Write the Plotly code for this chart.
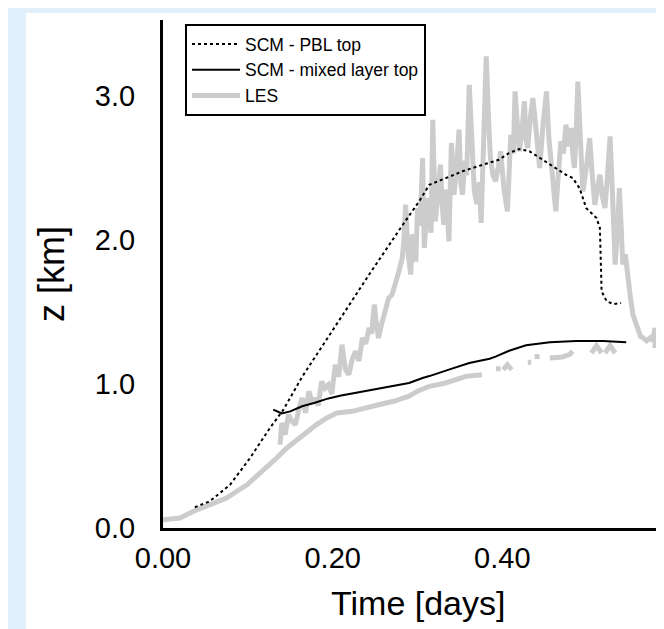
import plotly.graph_objects as go

# ---------------- data ----------------
# LES - upper (noisy) branch
les_top_t = [0.138, 0.140, 0.144, 0.148, 0.152, 0.156, 0.160, 0.164, 0.168, 0.172, 0.176, 0.179,
             0.183, 0.187, 0.191, 0.195, 0.199, 0.203, 0.207, 0.211, 0.215, 0.219, 0.223, 0.227,
             0.231, 0.235, 0.239, 0.243, 0.246, 0.249, 0.252, 0.254, 0.257, 0.260, 0.263, 0.266,
             0.270, 0.274, 0.278, 0.282, 0.284, 0.286, 0.289, 0.292, 0.294, 0.296, 0.298, 0.300,
             0.303, 0.306, 0.308, 0.311, 0.313, 0.316, 0.318, 0.321, 0.324, 0.327, 0.329, 0.331,
             0.334, 0.337, 0.340, 0.343, 0.346, 0.349, 0.351, 0.353, 0.356, 0.358, 0.361, 0.364,
             0.367, 0.370, 0.373, 0.375, 0.378, 0.381, 0.384, 0.386, 0.389, 0.392, 0.395, 0.398,
             0.402, 0.406, 0.410, 0.413, 0.415, 0.418, 0.420, 0.423, 0.426, 0.428, 0.430, 0.433,
             0.436, 0.440, 0.444, 0.448, 0.452, 0.455, 0.458, 0.461, 0.463, 0.466, 0.469, 0.472,
             0.475, 0.478, 0.481, 0.483, 0.485, 0.487, 0.489, 0.492, 0.495, 0.499, 0.503, 0.506,
             0.509, 0.512, 0.515, 0.518, 0.521, 0.524, 0.527, 0.530, 0.533, 0.536, 0.538, 0.540,
             0.542, 0.545, 0.548, 0.551, 0.554, 0.557, 0.560, 0.563, 0.566, 0.570, 0.574, 0.577,
             0.580, 0.580]
les_top_z = [0.579, 0.729, 0.648, 0.787, 0.741, 0.718, 0.820, 0.903, 0.800, 0.949, 0.870, 0.903,
             0.850, 1.019, 0.972, 0.995, 0.930, 1.134, 1.050, 1.273, 1.100, 1.065, 1.170, 1.227,
             1.160, 1.319, 1.280, 1.389, 1.350, 1.551, 1.400, 1.319, 1.400, 1.458, 1.520, 1.597,
             1.620, 1.690, 1.780, 1.875, 2.000, 2.245, 1.900, 1.760, 2.037, 2.014, 1.850, 2.222,
             2.100, 2.569, 1.944, 2.200, 2.292, 2.050, 2.835, 2.130, 2.300, 2.523, 2.250, 2.106,
             2.350, 1.990, 2.674, 2.315, 2.500, 2.766, 2.400, 2.315, 2.550, 2.450, 3.078, 2.600,
             2.338, 2.250, 2.400, 2.118, 2.600, 3.275, 2.800, 2.569, 2.450, 2.407, 2.500, 2.616,
             2.350, 2.199, 2.731, 2.600, 3.032, 2.800, 2.616, 2.750, 2.963, 2.700, 2.639, 2.850,
             2.986, 2.750, 2.500, 2.800, 3.032, 2.700, 2.523, 2.350, 2.199, 2.450, 2.685, 2.600,
             2.801, 2.650, 2.778, 2.600, 2.500, 2.750, 3.100, 2.700, 2.338, 2.500, 2.708, 2.450,
             2.245, 2.350, 2.453, 2.300, 2.222, 2.450, 2.720, 2.300, 1.829, 2.100, 2.360, 2.100,
             1.830, 1.900, 1.713, 1.600, 1.480, 1.420, 1.366, 1.330, 1.320, 1.300, 1.320, 1.300,
             1.389, 1.250]

# LES - lower branch (gaps where data are missing)
les_low_t = [0.000, 0.016, 0.020, 0.036, 0.051, 0.063, 0.075, 0.087, 0.099, 0.110, 0.122, 0.134,
             0.146, 0.158, 0.170, 0.181, 0.193, 0.205, 0.223, 0.235, 0.254, 0.272, 0.290, 0.300,
             0.314, 0.333, 0.345, 0.357, 0.376, None,
             0.3925, 0.398, None, 0.401, 0.406, 0.411, None, 0.430, 0.434, None, 0.438, 0.444, None,
             0.456, 0.471, 0.479, 0.483, None, 0.505, 0.511, 0.517, None, 0.521, 0.527, 0.533]
les_low_z = [0.058, 0.069, 0.069, 0.116, 0.150, 0.174, 0.208, 0.255, 0.300, 0.359, 0.417, 0.486,
             0.556, 0.613, 0.671, 0.718, 0.764, 0.799, 0.810, 0.830, 0.856, 0.880, 0.915, 0.950,
             0.984, 1.007, 1.030, 1.053, 1.065, None,
             1.106, 1.106, None, 1.099, 1.134, 1.099, None, 1.150, 1.150, None, 1.190, 1.190, None,
             1.180, 1.188, 1.204, 1.227, None, 1.215, 1.266, 1.215, None, 1.215, 1.266, 1.215]

# SCM - PBL top
pbl_t = [0.0375, 0.055, 0.079, 0.1026, 0.126, 0.142, 0.164, 0.203, 0.243, 0.282, 0.302, 0.314,
         0.329, 0.353, 0.377, 0.396, 0.408, 0.420, 0.432, 0.448, 0.4635, 0.475, 0.483, 0.491,
         0.499, 0.511, 0.515, 0.516, 0.517, 0.523, 0.531, 0.540]
pbl_z = [0.144, 0.185, 0.300, 0.486, 0.694, 0.822, 1.050, 1.400, 1.760, 2.100, 2.269, 2.384,
         2.419, 2.477, 2.523, 2.557, 2.604, 2.632, 2.616, 2.557, 2.500, 2.453, 2.430, 2.360,
         2.220, 2.153, 2.083, 1.875, 1.644, 1.574, 1.555, 1.5625]

# SCM - mixed layer top
ml_t = [0.130, 0.134, 0.140, 0.150, 0.164, 0.178, 0.195, 0.210, 0.227, 0.258, 0.290, 0.306,
        0.314, 0.337, 0.361, 0.385, 0.392, 0.408, 0.428, 0.456, 0.487, 0.519, 0.546]
ml_z = [0.822, 0.810, 0.795, 0.810, 0.845, 0.868, 0.900, 0.920, 0.9375, 0.972, 1.007, 1.042,
        1.055, 1.100, 1.146, 1.175, 1.190, 1.231, 1.269, 1.290, 1.299, 1.299, 1.290]

x_ticks = [0.0, 0.2, 0.4]
x_tick_text = ["0.00", "0.20", "0.40"]
y_ticks = [0.0, 1.0, 2.0, 3.0]
y_tick_text = ["0.0", "1.0", "2.0", "3.0"]

# ---------------- figure ----------------
W, H = 664, 629
ML, MR, MT, MB = 155, 0, 12, 109
FONT = "Liberation Sans, Arial, Helvetica, sans-serif"
LES_COLOR = "#cccccc"

fig = go.Figure()
# LES drawn first (underneath the SCM curves)
fig.add_trace(go.Scatter(x=les_top_t, y=les_top_z, mode="lines", name="LES", legendrank=3,
                         line=dict(color=LES_COLOR, width=5)))
fig.add_trace(go.Scatter(x=les_low_t, y=les_low_z, mode="lines", name="LES", showlegend=False,
                         connectgaps=False, line=dict(color=LES_COLOR, width=5)))
fig.add_trace(go.Scatter(x=pbl_t, y=pbl_z, mode="lines", name="SCM - PBL top", legendrank=1,
                         line=dict(color="black", width=2, dash="dot")))
fig.add_trace(go.Scatter(x=ml_t, y=ml_z, mode="lines", name="SCM - mixed layer top",
                         legendrank=2, line=dict(color="black", width=2)))

pw = W - ML - MR
ph = H - MT - MB
# white page area (light-blue frame on left and top)
fig.add_shape(type="rect", xref="paper", yref="paper", layer="below",
              x0=(18 - ML) / pw, x1=1.05, y0=-(MB + 10) / ph, y1=1 + (MT - 5) / ph,
              fillcolor="white", line=dict(width=0))

# x-axis title placed just under the tick labels
fig.add_annotation(text="Time [days]", xref="paper", yref="paper",
                   x=0.5, y=-(595 - (H - MB)) / ph, xanchor="center", yanchor="middle",
                   showarrow=False, font=dict(size=34, family=FONT, color="black"))

fig.update_layout(
    width=W, height=H,
    margin=dict(l=ML, r=MR, t=MT, b=MB, pad=0),
    paper_bgcolor="#e1f0fa", plot_bgcolor="white",
    font=dict(family=FONT, color="black"),
    legend=dict(x=(177 - ML) / pw, y=1 - (16 - MT) / ph, xanchor="left", yanchor="top",
                bgcolor="white", bordercolor="black", borderwidth=2, itemwidth=48,
                font=dict(size=17.5, family=FONT, color="black")),
    xaxis=dict(range=[0, 0.6], tickvals=x_ticks, ticktext=x_tick_text, showgrid=False,
               zeroline=False, showline=True, linecolor="black", linewidth=3, ticks="",
               tickfont=dict(size=29), ticklabelstandoff=2),
    yaxis=dict(range=[0, (H - MB - MT) / 144.0], tickvals=y_ticks, ticktext=y_tick_text,
               showgrid=False, zeroline=False, showline=True, linecolor="black", linewidth=3,
               ticks="", tickfont=dict(size=29), ticklabelstandoff=19,
               title=dict(text="z [km]", font=dict(size=36), standoff=20)),
    showlegend=True,
)

fig.write_html("out.html")
